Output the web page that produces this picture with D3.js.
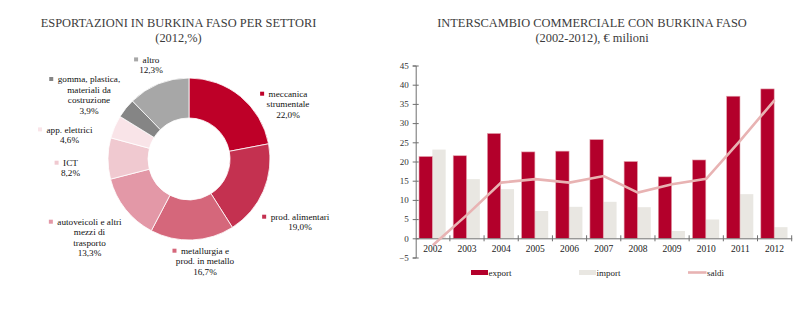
<!DOCTYPE html>
<html><head><meta charset="utf-8">
<script src="https://cdn.jsdelivr.net/npm/d3@7"></script>
<style>
body{margin:0;background:#fff}
svg{display:block}
text{font-family:"Liberation Serif","Times New Roman",serif}
</style>
</head><body>
<svg id="c" width="809" height="323" font-family="Liberation Serif, serif"></svg>
<script>
// ---------- DATA ----------
const sectorLabels = [
  ["meccanica","strumentale"],
  ["prod. alimentari"],
  ["metallurgia e","prod. in metallo"],
  ["autoveicoli e altri","mezzi di","trasporto"],
  ["ICT"],
  ["app. elettrici"],
  ["gomma, plastica,","materiali da","costruzione"],
  ["altro"]
];
const sectorShares = [22.0, 19.0, 16.7, 13.3, 8.2, 4.6, 3.9, 12.3];

const years = ["2002","2003","2004","2005","2006","2007","2008","2009","2010","2011","2012"];
const exportVals = [21.3, 21.5, 27.3, 22.5, 22.7, 25.7, 20.0, 16.0, 20.4, 37.0, 38.9];
const importVals = [23.1, 15.4, 12.8, 7.1, 8.2, 9.5, 8.1, 1.9, 4.9, 11.5, 2.9];
const saldiVals  = [-1.8, 6.1, 14.5, 15.4, 14.5, 16.2, 11.9, 14.1, 15.5, 25.5, 36.0];
const yTicks = [-5, 0, 5, 10, 15, 20, 25, 30, 35, 40, 45];
const seriesNames = ["export", "import", "saldi"];

// ---------- STYLE / LAYOUT ----------
const FONT = "Liberation Serif, Times New Roman, serif";
const sliceColors = ["#be0028","#c43150","#d5677b","#e398a7","#f0c9d0","#f9e4e8","#858585","#a7a7a7"];
const labelPos = [
  {cx:288, y:97}, {cx:300, y:220}, {cx:205, y:254}, {cx:89.5, y:225},
  {cx:70.5, y:166}, {cx:69.5, y:132.7}, {cx:89, y:82.3}, {cx:151, y:62.7}
];
const colExport = "#b3002b", colImport = "#e9e7e2", colSaldi = "#e8b3b3";
const titleColor = "#3b3b3b";

const svg = d3.select("#c");
const fmtPct = v => d3.format(".1f")(v).replace(".", ",") + "%";

// ---------- TITLES ----------
function title(x, lines, y0) {
  lines.forEach((t, i) => svg.append("text").attr("x", x).attr("y", y0 + i * 14.5)
    .attr("text-anchor", "middle").attr("font-family", FONT).attr("font-size", 12.4)
    .attr("fill", titleColor).text(t));
}
title(178.5, ["ESPORTAZIONI IN BURKINA FASO PER SETTORI", "(2012,%)"], 27);
title(592, ["INTERSCAMBIO COMMERCIALE CON BURKINA FASO", "(2002-2012), € milioni"], 27);

// ---------- DONUT ----------
const cx = 189, cy = 159, rOut = 81, rIn = 41;
const pie = d3.pie().sort(null).value(d => d)(sectorShares);
const arc = d3.arc().innerRadius(rIn).outerRadius(rOut);
const g = svg.append("g").attr("transform", `translate(${cx},${cy})`);
g.selectAll("path").data(pie).join("path")
  .attr("d", arc).attr("fill", (d, i) => sliceColors[i])
  .attr("stroke", "#fff").attr("stroke-width", 0.8);

sectorLabels.forEach((lines, i) => {
  const p = labelPos[i];
  const all = lines.concat([fmtPct(sectorShares[i])]);
  const lg = svg.append("g");
  const texts = all.map((t, j) => lg.append("text").attr("x", p.cx).attr("y", p.y + j * 10.4)
    .attr("text-anchor", "middle").attr("font-family", FONT).attr("font-size", 9.2)
    .attr("fill", "#111").text(t));
  const w = texts[0].node().getComputedTextLength();
  lg.append("rect").attr("x", p.cx - w / 2 - 8.5).attr("y", p.y - 5.3)
    .attr("width", 4).attr("height", 4).attr("fill", sliceColors[i]);
});

// ---------- BAR CHART ----------
const x0 = 415.7, x1 = 791.7;
const x = d3.scaleBand().domain(years).range([x0, x1]);
const y = d3.scaleLinear().domain([-5, 45]).range([257.5, 65.5]);
const bw = x.bandwidth() * 0.39;
const off = x.bandwidth() * 0.097;

const bg = svg.append("g");
bg.selectAll("rect.imp").data(importVals).join("rect").attr("class", "imp")
  .attr("x", (d, i) => x(years[i]) + off + bw).attr("width", bw)
  .attr("y", d => y(Math.max(0, d))).attr("height", d => Math.abs(y(d) - y(0)))
  .attr("fill", colImport);
bg.selectAll("rect.exp").data(exportVals).join("rect").attr("class", "exp")
  .attr("x", (d, i) => x(years[i]) + off).attr("width", bw)
  .attr("y", d => y(Math.max(0, d))).attr("height", d => Math.abs(y(d) - y(0)))
  .attr("fill", colExport).attr("stroke", "#e3a3ae").attr("stroke-width", 0.6);

// y axis
const yAxis = d3.axisLeft(y).tickValues(yTicks).tickSize(3).tickPadding(5);
const ya = svg.append("g").attr("transform", `translate(${x0},0)`).call(yAxis);
ya.attr("font-family", FONT);
ya.select(".domain").attr("stroke", "#6f6f6f");
ya.selectAll(".tick line").attr("stroke", "#6f6f6f").attr("x2", 3).attr("x1", -3);
ya.selectAll(".tick text").attr("font-size", 9).attr("fill", "#333").attr("x", -7);

// x axis at zero
const xa = svg.append("g").attr("transform", `translate(0,${y(0)})`)
  .call(d3.axisBottom(x).tickSize(0).tickPadding(7));
xa.attr("font-family", FONT);
xa.select(".domain").attr("stroke", "#6f6f6f");
xa.selectAll(".tick text").attr("font-size", 9.5).attr("fill", "#222");
years.forEach((yr, i) => {
  if (i === 0) return;
  xa.append("line").attr("x1", x(yr)).attr("x2", x(yr)).attr("y1", -3).attr("y2", 3).attr("stroke", "#6f6f6f");
});
xa.append("line").attr("x1", x1).attr("x2", x1).attr("y1", -3).attr("y2", 3).attr("stroke", "#6f6f6f");

// saldi line
const line = d3.line().x((d, i) => x(years[i]) + x.bandwidth() / 2).y(d => y(d));
svg.append("path").datum(saldiVals).attr("d", line).attr("fill", "none")
  .attr("stroke", colSaldi).attr("stroke-width", 2.6);

// legend
const leg = svg.append("g");
const legX = [471, 579, 688];
seriesNames.forEach((n, i) => {
  if (i < 2) leg.append("rect").attr("x", legX[i]).attr("y", 270).attr("width", 17).attr("height", 5)
    .attr("fill", i === 0 ? colExport : colImport);
  else leg.append("line").attr("x1", legX[i]).attr("x2", legX[i] + 18.5).attr("y1", 272.5).attr("y2", 272.5)
    .attr("stroke", colSaldi).attr("stroke-width", 2.6);
  leg.append("text").attr("x", legX[i] + 17.5 + (i === 2 ? 1.5 : 0)).attr("y", 275.8)
    .attr("font-family", FONT).attr("font-size", 9).attr("fill", "#222").text(n);
});
</script>
</body></html>
